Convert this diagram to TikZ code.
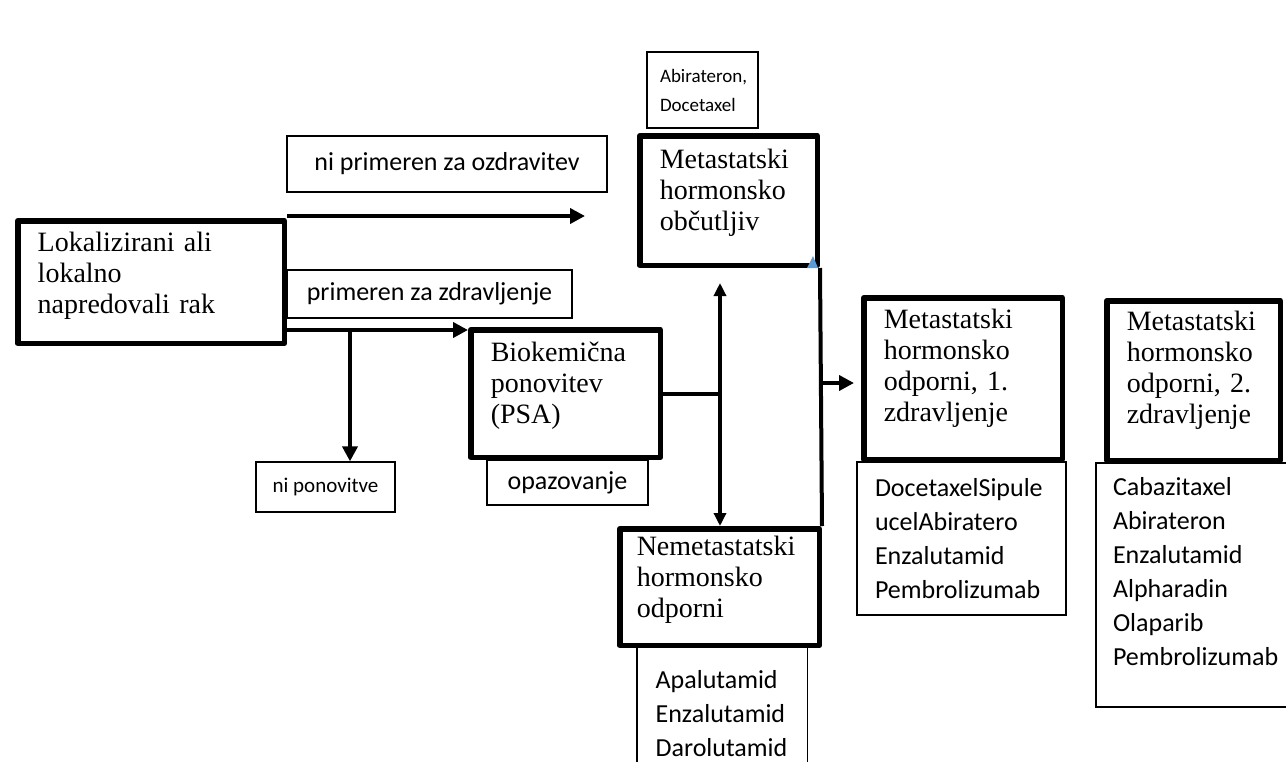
\documentclass[tikz,border=0pt]{standalone}
\usepackage{fontspec}
\usepackage{tikz}
\usetikzlibrary{arrows.meta}
\newfontfamily\timesfont{Liberation Serif}
\newfontfamily\calibrifont{Carlito}
\definecolor{tipblue}{HTML}{5B9BD5}
\hyphenpenalty=10000
\exhyphenpenalty=10000
\tikzstyle{stage} = [rectangle, draw=black, line width=5.5pt, line join=round, inner xsep=20pt, inner ysep=0pt, align=left, text depth=84pt, font=\timesfont\fontsize{28}{31}\selectfont]
\tikzstyle{choice} = [rectangle, draw=black, line width=1.3pt, inner sep=0pt, font=\calibrifont\fontsize{26}{34}\selectfont]
\tikzstyle{drugs} = [rectangle, draw=black, line width=1.3pt, inner xsep=18pt, inner ysep=0pt, align=left, font=\calibrifont\fontsize{26}{34}\selectfont]
\tikzstyle{arrow} = [line width=4pt,->,>={Triangle[length=15pt,width=15pt]}]
\tikzstyle{dblarrow} = [line width=4pt,<->,>={Triangle[length=13pt,width=12pt]}]
\tikzstyle{link} = [line width=4pt]

\begin{document}
\begin{tikzpicture}[x=1pt,y=-1pt]
    \useasboundingbox (0,0) rectangle (1286,761);

    \node (abir) [choice, align=left, text width=85pt, inner xsep=13pt, minimum height=76pt, font=\calibrifont\fontsize{19}{29}\selectfont] at (702.5,90) {Abirateron,\\Docetaxel};
    \node (nocure) [choice, minimum width=320pt, minimum height=56pt] at (447,164) {ni primeren za ozdravitev};
    \node (cure) [choice, minimum width=285pt, minimum height=48pt] at (429.5,294) {primeren za zdravljenje};
    \node (norelapse) [choice, minimum width=139pt, minimum height=50pt, font=\calibrifont\fontsize{21}{25}\selectfont] at (325.5,487) {ni ponovitve};
    \node (watch) [choice, minimum width=161pt, minimum height=45pt] at (567.5,482.5) {opazovanje};

    \node (firstdrugs) [drugs, text width=173pt, minimum height=153pt] at (961.5,538.5) {DocetaxelSipule\\ucelAbiratero\\Enzalutamid\\Pembrolizumab};
    \node (seconddrugs) [drugs, text width=175pt, inner xsep=17pt, minimum height=244pt, text depth=197pt] at (1200.5,585) {Cabazitaxel\\Abirateron\\Enzalutamid\\Alpharadin\\Olaparib\\Pembrolizumab};
    \node (nemetdrugs) [drugs, draw=none, anchor=north west, text width=133pt, minimum width=169pt, minimum height=130pt] at (637,648) {Apalutamid\\Enzalutamid\\Darolutamid};

    \node (metasens) [stage, text width=137.5pt, minimum height=129.5pt] at (728.5,200.5) {Metastatski\\hormonsko\\občutljiv};
    \node (lokal) [stage, text width=226.5pt, minimum height=122.5pt, text depth=80pt] at (151,282) {Lokalizirani ali\\lokalno\\napredovali rak};
    \node (biokem) [stage, text width=149.5pt, minimum height=127.5pt] at (565.5,393.5) {Biokemična\\ponovitev\\(PSA)};
    \node (nemet) [stage, text width=165.5pt, inner xsep=17pt, minimum height=116.5pt, text depth=82pt] at (719.5,587) {Nemetastatski\\hormonsko\\odporni};
    \node (firstline) [stage, text width=158.5pt, minimum height=161.5pt, text depth=119pt] at (963,378.5) {Metastatski\\hormonsko\\odporni, 1.\\zdravljenje};
    \node (secondline) [stage, text width=133.5pt, minimum height=159.5pt, text depth=119pt] at (1193.5,380.5) {Metastatski\\hormonsko\\odporni, 2.\\zdravljenje};

    \coordinate (tipA) at (585,216);
    \coordinate (split) at (350,330);
    \coordinate (upTip) at (720,283);
    \coordinate (joinC) at (820,383);

    \draw [line width=1.3pt] (nemetdrugs.north west) -- (nemetdrugs.south west);
    \draw [line width=1.3pt] (nemetdrugs.north east) -- (nemetdrugs.south east);

    \draw [arrow] (lokal.north east |- tipA) -- (tipA);
    \draw [arrow] (lokal.east |- split) -- (split -| biokem.west);
    \draw [arrow] (split) -- (split |- norelapse.north);
    \draw [link] (biokem.east) -- (biokem.east -| upTip);
    \draw [dblarrow] (upTip) -- (upTip |- nemet.north);
    \draw [link] (nemet.north east) -- (metasens.south east);
    \draw [arrow, shorten >=7pt] (joinC) -- (joinC -| firstline.west);
    \fill [tipblue] (807,268) -- (818,268) -- (813,256) -- cycle;

\end{tikzpicture}
\end{document}
